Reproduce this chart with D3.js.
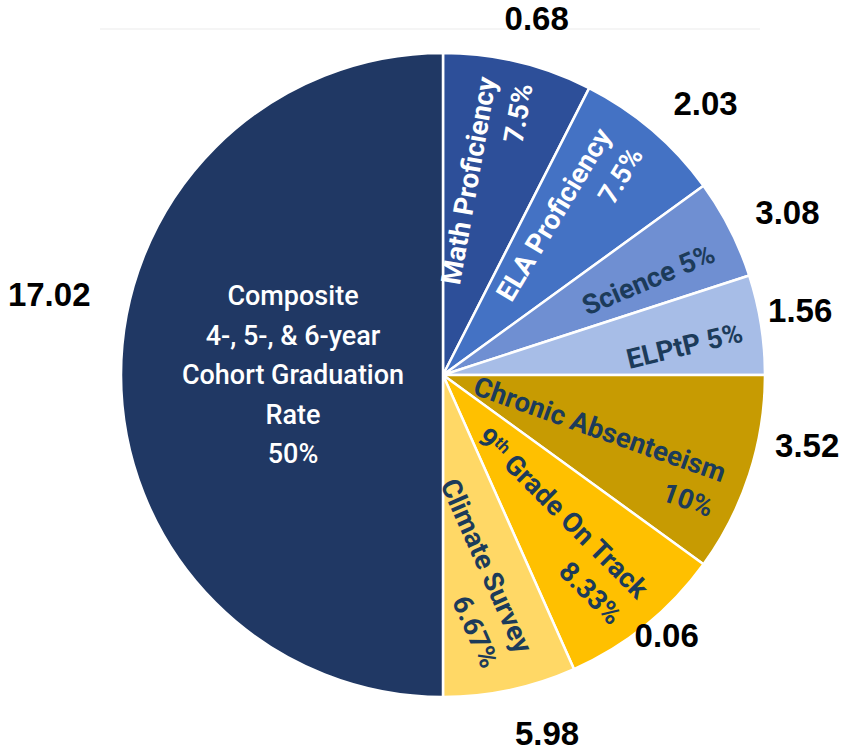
<!DOCTYPE html>
<html>
<head>
<meta charset="utf-8">
<script src="https://cdn.jsdelivr.net/npm/d3@7"></script>
<style>
  html, body { margin: 0; padding: 0; background: #fff; }
  svg { display: block; }
</style>
</head>
<body>
<svg id="chart" width="850" height="752"></svg>
<script>
// Accountability components, clockwise from 12 o'clock
const categories = [
  "Math Proficiency", "ELA Proficiency", "Science", "ELPtP",
  "Chronic Absenteeism", "9th Grade On Track", "Climate Survey",
  "Composite 4-, 5-, & 6-year Cohort Graduation Rate"
];
// Weight of each component (percent of the total)
const weights = [7.5, 7.5, 5, 5, 10, 8.33, 6.67, 50];
// Points earned for each component
const scores = [0.68, 2.03, 3.08, 1.56, 3.52, 0.06, 5.98, 17.02];
// Lines used for the slice captions (the weight is appended)
const captionLines = [
  ["Math Proficiency"], ["ELA Proficiency"], ["Science"], ["ELPtP"],
  ["Chronic Absenteeism"], ["9th Grade On Track"], ["Climate Survey"],
  ["Composite", "4-, 5-, & 6-year", "Cohort Graduation", "Rate"]
];
const weightOnSameLine = [false, false, true, true, false, false, false, false];

const colors = ["#2d4f99", "#4472c4", "#6f8fd2", "#a7bde7",
                "#c79b02", "#ffc000", "#ffd866", "#203864"];
const textColors = ["#ffffff", "#ffffff", "#1c3b5a", "#1c3b5a",
                    "#1c3b5a", "#1c3b5a", "#1c3b5a", "#ffffff"];

// Caption layout: angle offset from slice middle (deg), radius, rotation (deg)
const captionAngleOffset = [-1.6, -3.5, 2.5, 0.8, 4.8, 0, -0.9, 0];
const captionRadius      = [301, 294, 297, 302, 299, 298, 291, 150];
const captionRotation    = [-80, -59, -23, -13.5, 19.5, 45, 66, 0];
// Score label layout: angle offset from slice middle (deg), radius
const scoreAngleOffset = [1.2, 3.5, 1.7, -1.3, -7, -1.7, -4.2, 11.6];
const scoreRadius      = [369, 378, 381, 363, 371, 343, 373, 402];

const W = 850, H = 752;
const cx = 443, cy = 375, R = 322;
const svg = d3.select("#chart");

// faint rule across the top
svg.append("line")
  .attr("x1", 100).attr("x2", 760).attr("y1", 29).attr("y2", 29)
  .attr("stroke", "#f2f2f2").attr("stroke-width", 1.5);

const g = svg.append("g").attr("transform", `translate(${cx},${cy})`);

const pie = d3.pie().sort(null).value(d => d)
  .startAngle(0).endAngle(2 * Math.PI);
const arcs = pie(weights);
const arc = d3.arc().innerRadius(0).outerRadius(R);

g.selectAll("path.slice")
  .data(arcs)
  .join("path")
  .attr("class", "slice")
  .attr("d", arc)
  .attr("fill", (d, i) => colors[i])
  .attr("stroke", "#ffffff")
  .attr("stroke-width", 2.5)
  .attr("stroke-linejoin", "round");

const toRad = deg => deg * Math.PI / 180;
const polar = (a, r) => [r * Math.sin(a), -r * Math.cos(a)];
const mid = d => (d.startAngle + d.endAngle) / 2;

// slice captions
arcs.forEach((d, i) => {
  const a = mid(d) + toRad(captionAngleOffset[i]);
  const [x, y] = polar(a, captionRadius[i]);
  const isComposite = i === 7;
  const lines = captionLines[i].slice();
  const pct = weights[i] + "%";
  if (weightOnSameLine[i]) lines[lines.length - 1] += " " + pct;
  else lines.push(pct);

  const lh = isComposite ? 39.5 : 37;
  const grp = g.append("g")
    .attr("transform", `translate(${x},${y}) rotate(${captionRotation[i]})`);
  const text = grp.append("text")
    .attr("text-anchor", isComposite ? "middle" : "end")
    .attr("fill", textColors[i])
    .attr("font-family", "Roboto, 'Liberation Sans', Arial, sans-serif")
    .attr("font-weight", isComposite ? 500 : 700)
    .attr("font-size", isComposite ? 27 : 27.5);

  lines.forEach((ln, k) => {
    const t = text.append("tspan")
      .attr("x", 0)
      .attr("y", (k - (lines.length - 1) / 2) * lh)
      .attr("dy", "0.35em");
    const m = ln.match(/^(\d)th (.*)$/);
    if (m) {
      t.append("tspan").text(m[1]);
      t.append("tspan").attr("font-size", "0.6em").attr("baseline-shift", "super").text("th");
      t.append("tspan").text(" " + m[2]);
    } else {
      t.text(ln);
    }
  });
});

// score labels outside the pie
g.selectAll("text.score")
  .data(arcs)
  .join("text")
  .attr("class", "score")
  .attr("transform", (d, i) => {
    const [x, y] = polar(mid(d) + toRad(scoreAngleOffset[i]), scoreRadius[i]);
    return `translate(${x},${y})`;
  })
  .attr("text-anchor", "middle")
  .attr("dy", "0.35em")
  .attr("font-family", "'Liberation Sans', Arial, sans-serif")
  .attr("font-weight", 700)
  .attr("font-size", 33)
  .attr("fill", "#000")
  .text((d, i) => scores[i].toFixed(2));
</script>
</body>
</html>
